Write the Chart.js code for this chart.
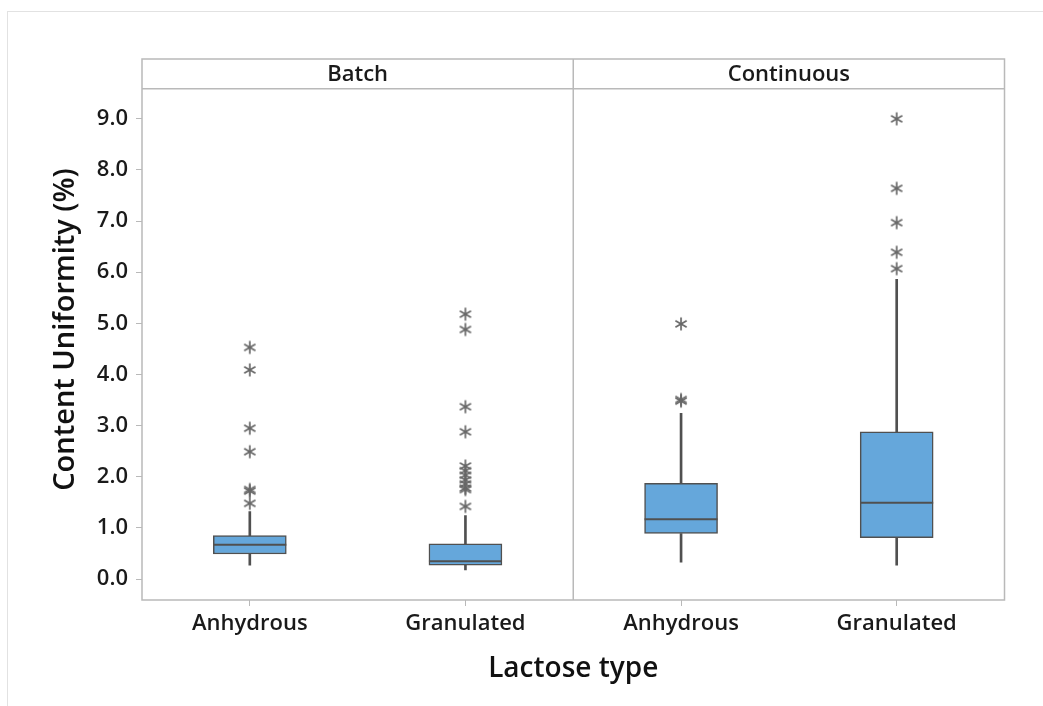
<!DOCTYPE html>
<html>
<head>
<meta charset="utf-8">
<script src="https://cdn.jsdelivr.net/npm/chart.js@4/dist/chart.umd.min.js"></script>
<style>
  body { margin: 0; background: #fff; }
  #wrap { position: relative; width: 1043px; height: 706px; overflow: hidden; }
  #frame { position: absolute; left: 7px; top: 11px; width: 1100px; height: 800px;
           border-top: 1px solid #e2e2e2; border-left: 1px solid #e2e2e2; }
  #myChart { position: absolute; left: 0; top: 0; }
</style>
</head>
<body>
<div id="wrap">
  <div id="frame"></div>
  <canvas id="myChart" width="1043" height="706"></canvas>
</div>
<script>
// panels and lactose types (one box per entry)
const processes = ['Batch', 'Continuous'];
const lactoseTypes = ['Anhydrous', 'Granulated', 'Anhydrous', 'Granulated'];

// box plot summary (Content Uniformity %)
const whiskerLow  = [0.27, 0.18, 0.33, 0.27];
const q1          = [0.49, 0.27, 0.89, 0.81];
const median      = [0.67, 0.35, 1.17, 1.49];
const q3          = [0.85, 0.69, 1.87, 2.88];
const whiskerHigh = [1.32, 1.24, 3.24, 5.86];

const outliers = [
  [4.53, 4.09, 2.95, 2.49, 1.75, 1.72, 1.48],
  [5.18, 4.88, 3.37, 2.88, 2.21, 2.12, 2.03, 1.94, 1.86, 1.78, 1.75, 1.42],
  [4.99, 3.51, 3.48],
  [9.0, 7.64, 6.97, 6.39, 6.07]
];

const yTicks = [0, 1, 2, 3, 4, 5, 6, 7, 8, 9];

const boxColor = '#65a7db';
const lineColor = '#505050';
const frameColor = '#b9b9b9';
const fontFamily = '"Open Sans", "Noto Sans", sans-serif';

// asterisk marker like Minitab's outlier symbol
function makeAsterisk() {
  const c = document.createElement('canvas');
  c.width = 16; c.height = 16;
  const g = c.getContext('2d');
  g.strokeStyle = '#676767';
  g.lineWidth = 1.7;
  g.translate(8, 8);
  for (let a = 0; a < 3; a++) {
    const ang = Math.PI / 2 + a * Math.PI / 3;
    g.beginPath();
    g.moveTo(Math.cos(ang) * 6.5, Math.sin(ang) * 6.5);
    g.lineTo(-Math.cos(ang) * 6.5, -Math.sin(ang) * 6.5);
    g.stroke();
  }
  return c;
}

// panel frame, strip headers and panel divider, placed from the scales
const panelPlugin = {
  id: 'panels',
  afterDatasetsDraw(chart) {
    const {ctx, chartArea, scales} = chart;
    const x = scales.x, y = scales.y;
    const stripBottom = y.getPixelForValue(9.59);
    ctx.save();
    ctx.fillStyle = '#fff';
    ctx.fillRect(chartArea.left, chartArea.top, chartArea.width, stripBottom - chartArea.top);
    ctx.strokeStyle = frameColor;
    ctx.lineWidth = 1.5;
    ctx.strokeRect(chartArea.left, chartArea.top, chartArea.width, chartArea.height);
    ctx.beginPath();
    ctx.moveTo(chartArea.left, stripBottom);
    ctx.lineTo(chartArea.right, stripBottom);
    const mid = x.getPixelForValue(1.5);
    ctx.moveTo(mid, chartArea.top);
    ctx.lineTo(mid, chartArea.bottom);
    ctx.stroke();
    ctx.fillStyle = '#1a1a1a';
    ctx.font = '600 22px ' + fontFamily;
    ctx.textAlign = 'center';
    ctx.textBaseline = 'middle';
    processes.forEach((p, i) => {
      ctx.fillText(p, x.getPixelForValue(i * 2 + 0.5), (chartArea.top + stripBottom) / 2 + 1);
    });
    ctx.restore();
  }
};

document.addEventListener('DOMContentLoaded', function() {
  const ctx = document.getElementById('myChart').getContext('2d');
  const star = makeAsterisk();

  const idx = lactoseTypes.map((_, i) => i);
  const outlierPoints = [];
  outliers.forEach((list, i) => list.forEach(v => outlierPoints.push({x: i, y: v})));

  new Chart(ctx, {
    type: 'bar',
    data: {
      datasets: [
        {
          label: 'Median',
          type: 'scatter',
          data: idx.map(i => ({x: i, y: median[i]})),
          pointStyle: 'line',
          pointRadius: 36.5,
          borderColor: lineColor,
          borderWidth: 2,
          order: 0
        },
        {
          label: 'Outliers',
          type: 'scatter',
          data: outlierPoints,
          pointStyle: star,
          order: 1
        },
        {
          label: 'IQR box',
          data: idx.map(i => ({x: i, y: [q1[i], q3[i]]})),
          backgroundColor: boxColor,
          borderColor: lineColor,
          borderWidth: 1.5,
          borderSkipped: false,
          barThickness: 73,
          grouped: false,
          order: 2
        },
        {
          label: 'Lower whisker',
          data: idx.map(i => ({x: i, y: [whiskerLow[i], q1[i]]})),
          backgroundColor: lineColor,
          barThickness: 2,
          grouped: false,
          order: 3
        },
        {
          label: 'Upper whisker',
          data: idx.map(i => ({x: i, y: [q3[i], whiskerHigh[i]]})),
          backgroundColor: lineColor,
          barThickness: 2,
          grouped: false,
          order: 3
        }
      ]
    },
    options: {
      responsive: false,
      animation: false,
      layout: { padding: { left: 40, right: 35, top: 59, bottom: 20 } },
      plugins: {
        legend: { display: false },
        tooltip: { enabled: false }
      },
      scales: {
        x: {
          type: 'linear',
          min: -0.5,
          max: 3.5,
          offset: false,
          afterBuildTicks: s => { s.ticks = idx.map(v => ({value: v})); },
          afterFit: s => { s.height = 86; },
          grid: { offset: false, drawOnChartArea: false, drawTicks: true, tickLength: 6, color: frameColor },
          border: { display: false },
          ticks: {
            padding: 5,
            color: '#1a1a1a',
            font: { family: fontFamily, size: 22, weight: '600' },
            callback: v => lactoseTypes[v]
          },
          title: {
            display: true,
            text: 'Lactose type',
            color: '#111',
            font: { family: fontFamily, size: 28, weight: '600' },
            padding: { top: 8, bottom: 0 }
          }
        },
        y: {
          min: -0.41,
          max: 10.17,
          afterBuildTicks: s => { s.ticks = yTicks.map(v => ({value: v})); },
          afterFit: s => { s.width = 102; },
          grid: { drawOnChartArea: false, drawTicks: true, tickLength: 6, color: frameColor },
          border: { display: false },
          ticks: {
            padding: 8,
            color: '#1a1a1a',
            font: { family: fontFamily, size: 22, weight: '600' },
            callback: v => v.toFixed(1)
          },
          title: {
            display: true,
            text: 'Content Uniformity (%)',
            color: '#111',
            font: { family: fontFamily, size: 29, weight: '600' },
            padding: { top: 8, bottom: 0 }
          }
        }
      }
    },
    plugins: [panelPlugin]
  });
});
</script>
</body>
</html>
